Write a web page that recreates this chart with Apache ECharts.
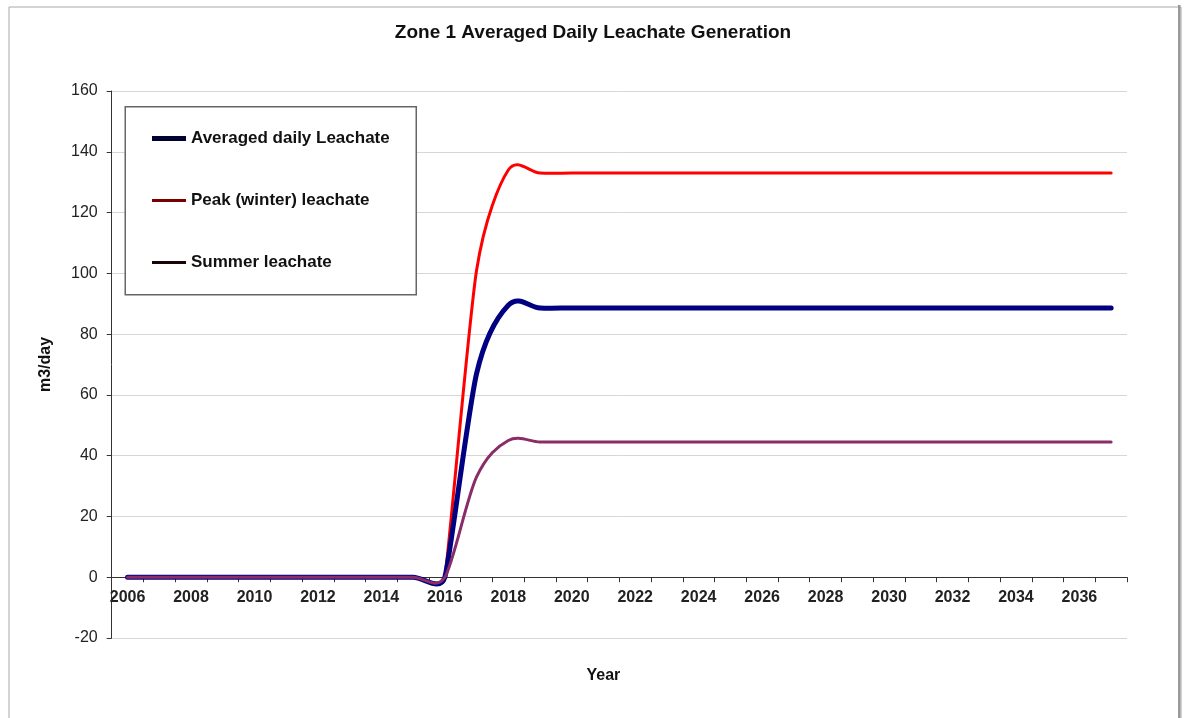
<!DOCTYPE html>
<html>
<head>
<meta charset="utf-8">
<script src="https://cdn.jsdelivr.net/npm/echarts@6/dist/echarts.min.js"></script>
<style>
html,body{margin:0;padding:0;background:#fff;}
#chart{width:1186px;height:718px;}
</style>
</head>
<body>
<div id="chart"></div>
<script>
var years = ['2006','2007','2008','2009','2010','2011','2012','2013','2014','2015','2016','2017','2018','2019','2020','2021','2022','2023','2024','2025','2026','2027','2028','2029','2030','2031','2032','2033','2034','2035','2036','2037'];
var averagedDaily = [0,0,0,0,0,0,0,0,0,0,0,67,89.5,88.6,88.6,88.6,88.6,88.6,88.6,88.6,88.6,88.6,88.6,88.6,88.6,88.6,88.6,88.6,88.6,88.6,88.6,88.6];
var peakWinter = [0,0,0,0,0,0,0,0,0,0,0,101,134,133,133,133,133,133,133,133,133,133,133,133,133,133,133,133,133,133,133,133];
var summer = [0,0,0,0,0,0,0,0,0,0,0,33,45,44.5,44.5,44.5,44.5,44.5,44.5,44.5,44.5,44.5,44.5,44.5,44.5,44.5,44.5,44.5,44.5,44.5,44.5,44.5];
var seriesNames = ['Averaged daily Leachate','Peak (winter) leachate','Summer leachate'];
var yTicks = {min: -20, max: 160, interval: 20};

var FONT = '"Liberation Sans", Arial, Helvetica, sans-serif';
var W = 1186, H = 718;
var GRID = {left: 111.7, right: 59, top: 91, bottom: 80};
var plotH = H - GRID.top - GRID.bottom;
var zeroOffset = -plotH * (0 - yTicks.min) / (yTicks.max - yTicks.min);

var chart = echarts.init(document.getElementById('chart'), null, {renderer: 'canvas', width: W, height: H});

function dist(a, b) { var dx = b[0] - a[0], dy = b[1] - a[1]; return Math.sqrt(dx * dx + dy * dy); }

// Spreadsheet-style smoothing: Catmull-Rom tangents (1/6), arms capped at half of the shorter neighbour segment
function arm(p0, p1, p2) {
  var d01 = dist(p0, p1), d12 = dist(p1, p2), d02 = dist(p0, p2);
  if (d02 === 0) return [0, 0];
  var f = 1 / 6;
  var cap = Math.min(d01, d12) / 2;
  if (d02 * f > cap) f = cap / d02;
  return [(p2[0] - p0[0]) * f, (p2[1] - p0[1]) * f];
}

function smoothLine(name, values, color, width, z) {
  return {
    type: 'custom',
    name: name,
    coordinateSystem: 'cartesian2d',
    z: z,
    data: values.map(function (v, i) { return [i, v]; }),
    encode: {x: 0, y: 1},
    itemStyle: {color: color},
    renderItem: function (params, api) {
      if (params.dataIndex !== 0) return null;
      var n = values.length;
      var pts = [];
      for (var k = 0; k < n; k++) pts.push(api.coord([k, values[k]]));
      function at(k) { return pts[Math.max(0, Math.min(n - 1, k))]; }
      var d = 'M' + pts[0][0].toFixed(2) + ' ' + pts[0][1].toFixed(2);
      for (var i = 0; i < n - 1; i++) {
        var a = at(i), b = at(i + 1);
        var va = arm(at(i - 1), a, b);
        var vb = arm(a, b, at(i + 2));
        d += ' C' + (a[0] + va[0]).toFixed(2) + ' ' + (a[1] + va[1]).toFixed(2) + ' ' +
             (b[0] - vb[0]).toFixed(2) + ' ' + (b[1] - vb[1]).toFixed(2) + ' ' +
             b[0].toFixed(2) + ' ' + b[1].toFixed(2);
      }
      return {
        type: 'path',
        shape: {pathData: d},
        style: {stroke: color, lineWidth: width, fill: null, lineCap: 'round', lineJoin: 'round'},
        silent: true
      };
    }
  };
}

function legendItem(name, top, color, h) {
  return {
    show: true, left: 152, top: top, padding: 0, itemWidth: 34, itemHeight: h, itemGap: 0,
    data: [{name: name, icon: 'rect', itemStyle: {color: color}}],
    textStyle: {fontFamily: FONT, fontSize: 17, fontWeight: 'bold', color: '#111'}
  };
}

var option = {
  animation: false,
  backgroundColor: '#ffffff',
  title: {
    text: 'Zone 1 Averaged Daily Leachate Generation',
    left: 'center',
    top: 18,
    textStyle: {fontFamily: FONT, fontSize: 19, fontWeight: 'bold', color: '#111'}
  },
  legend: [
    legendItem(seriesNames[0], 130, '#000033', 5),
    legendItem(seriesNames[1], 192, '#7a0000', 3),
    legendItem(seriesNames[2], 254, '#1a0505', 3)
  ],
  graphic: [
    {type: 'rect', left: 6.5, top: 4.5, z: 0, silent: true,
      shape: {width: 1172, height: 730},
      style: {fill: 'none', stroke: '#a8a8a8', lineWidth: 1}},
    {type: 'rect', left: 1178, top: 5, z: 0, silent: true,
      shape: {width: 2.5, height: 730},
      style: {fill: '#999999'}},
    {type: 'rect', left: 124.5, top: 106, z: 3, silent: true,
      shape: {width: 291, height: 188},
      style: {fill: '#ffffff', stroke: '#666666', lineWidth: 1.5}}
  ],
  grid: {left: GRID.left, right: GRID.right, top: GRID.top, bottom: GRID.bottom, outerBoundsMode: 'none', containLabel: false},
  xAxis: {
    type: 'category',
    data: years,
    boundaryGap: true,
    offset: zeroOffset,
    name: 'Year',
    nameLocation: 'middle',
    nameGap: 90,
    nameTextStyle: {fontFamily: FONT, fontSize: 16, fontWeight: 'bold', color: '#111', padding: [0, 32, 0, 0]},
    axisLine: {show: true, onZero: false, lineStyle: {color: '#333', width: 1}},
    axisTick: {show: true, interval: 0, length: 5, inside: false, alignWithLabel: false, lineStyle: {color: '#333'}},
    axisLabel: {interval: 1, margin: 12, fontFamily: FONT, fontSize: 16, fontWeight: 'bold', color: '#222'},
    splitLine: {show: false}
  },
  yAxis: {
    type: 'value',
    min: yTicks.min,
    max: yTicks.max,
    interval: yTicks.interval,
    name: 'm3/day',
    nameLocation: 'middle',
    nameGap: 58,
    nameRotate: 90,
    nameTextStyle: {fontFamily: FONT, fontSize: 16, fontWeight: 'bold', color: '#111'},
    axisLine: {show: true, lineStyle: {color: '#333', width: 1}},
    axisTick: {show: true, length: 5, inside: false, lineStyle: {color: '#333'}},
    axisLabel: {margin: 14, fontFamily: FONT, fontSize: 16, color: '#222'},
    splitLine: {show: true, lineStyle: {color: '#d6d6d6', width: 1}}
  },
  series: [
    smoothLine(seriesNames[1], peakWinter, '#ff0000', 3, 2),
    smoothLine(seriesNames[0], averagedDaily, '#000080', 5, 3),
    smoothLine(seriesNames[2], summer, '#8a2c68', 3, 4)
  ]
};
chart.setOption(option);
</script>
</body>
</html>
